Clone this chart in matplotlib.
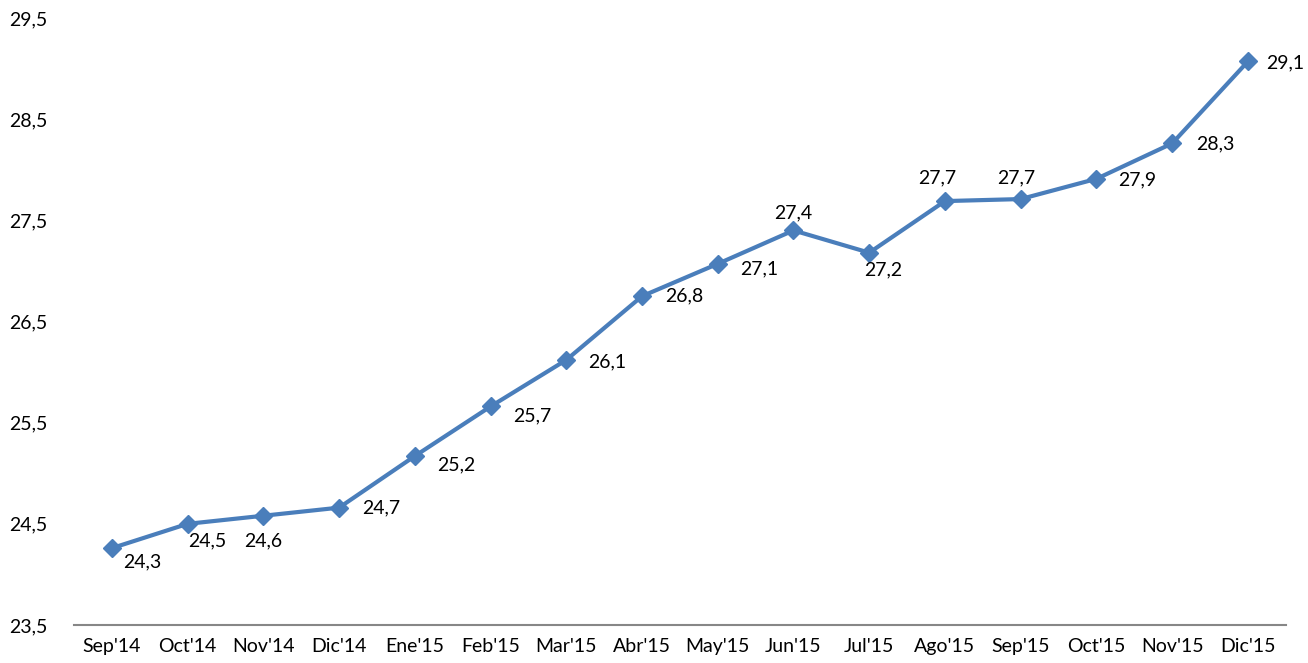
import numpy as np
import matplotlib.pyplot as plt

months = ["Sep'14", "Oct'14", "Nov'14", "Dic'14", "Ene'15", "Feb'15", "Mar'15", "Abr'15",
          "May'15", "Jun'15", "Jul'15", "Ago'15", "Sep'15", "Oct'15", "Nov'15", "Dic'15"]
values = [24.26, 24.50, 24.58, 24.66, 25.17, 25.66, 26.12, 26.75,
          27.07, 27.40, 27.18, 27.69, 27.71, 27.91, 28.26, 29.07]
y_ticks = [23.5, 24.5, 25.5, 26.5, 27.5, 28.5, 29.5]

# label offsets in pixels (dx, dy) relative to each point
offsets = [(30, -14), (20, -17), (0, -25), (42, 0), (41, -9), (42, -9), (41, -2), (42, 0),
           (41, -5), (0, 18), (14, -17), (-8, 23), (-4, 21), (41, -1), (43, 0), (37, -1)]

plt.rcParams['font.family'] = ['Lato', 'DejaVu Sans']
color = "#4A7EBB"

fig = plt.figure(figsize=(13.08, 6.63), dpi=100)
ax = fig.add_axes([0.0566, 0.0573, 0.9264, 0.9156])

x = np.arange(len(months))
ax.plot(x, values, color=color, lw=3.0, marker="D", markersize=9, zorder=3)

for xi, v, (dx, dy) in zip(x, values, offsets):
    lbl = f"{v:.1f}".replace(".", ",")
    ax.annotate(lbl, (xi, v), xytext=(dx * 0.72, dy * 0.72), textcoords="offset points",
                ha="center", va="center", fontsize=14, color="black")

ax.set_xlim(-0.5, len(months) - 0.5)
ax.set_ylim(23.5, 29.5)
ax.set_xticks(x)
ax.set_xticklabels(months, fontsize=14)
ax.set_yticks(y_ticks)
ax.set_yticklabels([f"{t:.1f}".replace(".", ",") for t in y_ticks], fontsize=14)
ax.tick_params(axis="both", length=0)
ax.tick_params(axis="y", pad=19)
ax.tick_params(axis="x", pad=9)

for s in ["top", "right", "left"]:
    ax.spines[s].set_visible(False)
ax.spines["bottom"].set_color("#878787")
ax.spines["bottom"].set_linewidth(1.5)

fig.savefig("out.png", dpi=100)
